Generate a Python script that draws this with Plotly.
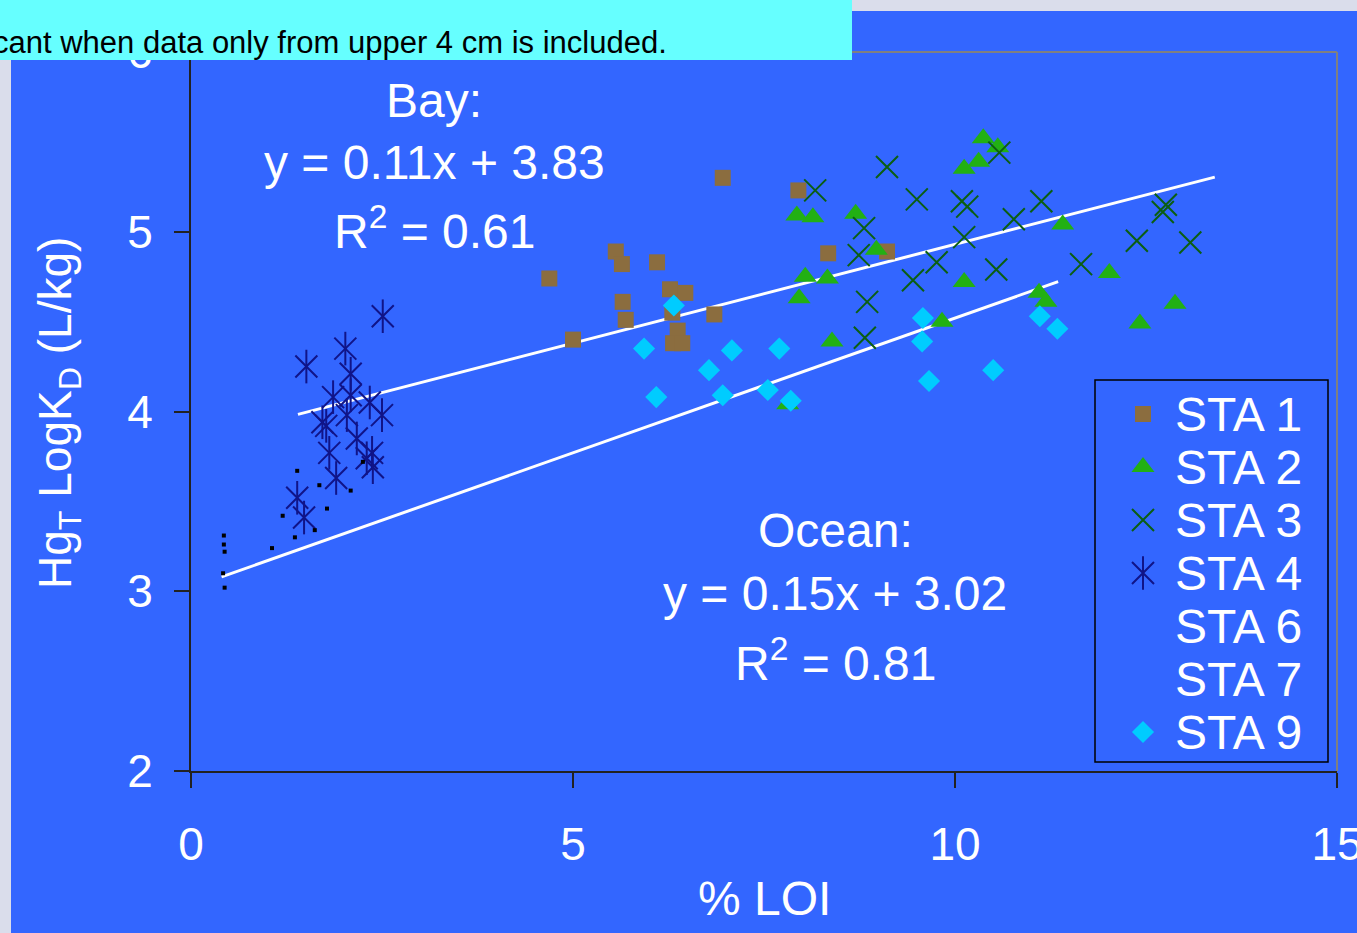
import plotly.graph_objects as go
import numpy as np

# ---------------- data ----------------
sta1_x = [4.69, 5.00, 5.56, 5.64, 5.65, 5.69, 6.10, 6.27, 6.47, 6.30, 6.37, 6.31, 6.43, 6.85, 6.96, 7.95, 8.34, 9.11]
sta1_y = [4.74, 4.40, 4.89, 4.82, 4.61, 4.51, 4.83, 4.68, 4.66, 4.55, 4.45, 4.38, 4.38, 4.54, 5.30, 5.23, 4.88, 4.89]

sta2_x = [10.37, 10.56, 10.31, 10.12, 7.93, 8.14, 8.70, 8.97, 8.04, 8.33, 7.96, 10.12, 11.41, 11.10, 11.19, 9.83, 8.39, 12.02, 12.88, 12.42, 7.81]
sta2_y = [5.52, 5.47, 5.39, 5.35, 5.09, 5.08, 5.10, 4.90, 4.75, 4.74, 4.63, 4.72, 5.04, 4.66, 4.61, 4.50, 4.39, 4.77, 4.60, 4.49, 4.04]

sta3_x = [8.17, 9.11, 9.50, 10.09, 10.16, 10.58, 11.13, 10.77, 8.81, 8.74, 10.12, 9.76, 9.45, 10.54, 8.85, 8.82, 12.76, 12.72, 12.38, 13.08, 11.65]
sta3_y = [5.23, 5.36, 5.18, 5.17, 5.14, 5.44, 5.17, 5.07, 5.02, 4.87, 4.97, 4.83, 4.73, 4.79, 4.61, 4.41, 5.15, 5.11, 4.95, 4.94, 4.82]

sta4_x = [2.51, 2.02, 1.51, 2.09, 1.86, 2.09, 2.34, 2.50, 2.04, 1.72, 1.77, 2.17, 1.81, 2.37, 2.30, 2.38, 1.90, 1.39, 1.48]
sta4_y = [4.53, 4.35, 4.25, 4.21, 4.08, 4.09, 4.05, 3.98, 3.98, 3.94, 3.92, 3.85, 3.77, 3.77, 3.74, 3.69, 3.63, 3.52, 3.41]

sta6_x = [0.43, 0.43, 0.44, 0.42, 0.44]
sta6_y = [3.31, 3.26, 3.22, 3.10, 3.02]

sta7_x = [1.39, 1.68, 2.09, 1.20, 1.78, 1.62, 1.36, 1.06, 2.25]
sta7_y = [3.67, 3.59, 3.56, 3.42, 3.46, 3.34, 3.30, 3.24, 3.72]

sta9_x = [6.32, 5.93, 7.08, 7.70, 6.78, 6.09, 6.96, 7.55, 7.85, 9.58, 9.57, 9.66, 10.50, 11.11, 11.34]
sta9_y = [4.59, 4.35, 4.34, 4.35, 4.23, 4.08, 4.09, 4.12, 4.06, 4.52, 4.39, 4.17, 4.23, 4.53, 4.46]

series_names = ["STA 1", "STA 2", "STA 3", "STA 4", "STA 6", "STA 7", "STA 9"]

bay_fit = {"slope": 0.11, "intercept": 3.83, "r2": 0.61, "xmin": 1.4, "xmax": 13.4}
ocean_fit = {"slope": 0.15, "intercept": 3.02, "r2": 0.81, "xmin": 0.4, "xmax": 11.35}

x_ticks = [0, 5, 10, 15]
y_ticks = [2, 3, 4, 5, 6]

caption = "cant when data only from upper 4 cm is included."

# ---------------- layout helpers ----------------
W, H = 1357, 933
L, R, T, B = 191, 1337, 52, 771
BLUE = "#3366FF"
FONT = "Liberation Sans, Arial, sans-serif"


def px(x):
    return (x - L) / (R - L)


def py(y):
    return (B - y) / (B - T)


STYLES = {
    "STA 1": [dict(symbol="square", size=16, color="#8B6D3F", line=dict(width=0))],
    "STA 2": [dict(symbol="triangle-up", size=20, color="#22B014", line=dict(width=0))],
    "STA 3": [dict(symbol="x-thin", size=22, color="#0B5E12", line=dict(width=2, color="#0B5E12"))],
    "STA 4": [dict(symbol="x-thin", size=22, color="#101488", line=dict(width=2, color="#101488")),
              dict(symbol="line-ns", size=24, color="#101488", line=dict(width=2, color="#101488"))],
    "STA 6": [dict(symbol="square", size=4, color="black", line=dict(width=0))],
    "STA 7": [dict(symbol="square", size=4, color="black", line=dict(width=0))],
    "STA 9": [dict(symbol="diamond", size=17, color="#00CCFF", line=dict(width=0))],
}
SERIES = {
    "STA 1": (sta1_x, sta1_y), "STA 2": (sta2_x, sta2_y), "STA 3": (sta3_x, sta3_y),
    "STA 4": (sta4_x, sta4_y), "STA 6": (sta6_x, sta6_y), "STA 7": (sta7_x, sta7_y),
    "STA 9": (sta9_x, sta9_y),
}

fig = go.Figure()

# trend lines
for fit in (bay_fit, ocean_fit):
    xs = np.array([fit["xmin"], fit["xmax"]])
    ys = fit["slope"] * xs + fit["intercept"]
    fig.add_trace(go.Scatter(x=xs, y=ys, mode="lines", line=dict(color="white", width=3),
                             showlegend=False, hoverinfo="skip"))

# data series
for name in series_names:
    xs, ys = SERIES[name]
    for mk in STYLES[name]:
        fig.add_trace(go.Scatter(x=xs, y=ys, mode="markers", name=name, marker=mk,
                                 showlegend=False, hoverinfo="skip"))

# ---------------- manual legend ----------------
leg_box = (1095, 380, 1328, 762)
leg_row0, leg_step = 414, 53
leg_mark_x, leg_text_x = 1143, 1173
annotations = []
for i, name in enumerate(series_names):
    yrow = leg_row0 + leg_step * i
    if name not in ("STA 6", "STA 7"):  # tiny markers are invisible in the reference legend
        for mk in STYLES[name]:
            fig.add_trace(go.Scatter(x=[px(leg_mark_x)], y=[py(yrow)], xaxis="x2", yaxis="y2",
                                     mode="markers", marker=mk, showlegend=False, hoverinfo="skip"))
    annotations.append(dict(x=px(leg_text_x), y=py(yrow), xref="paper", yref="paper",
                            text=name, showarrow=False, xanchor="left", yanchor="middle",
                            font=dict(family=FONT, size=48, color="white")))


# ---------------- text annotations ----------------
def ann(text, x, y, size=48, color="white", xanchor="center", angle=0):
    annotations.append(dict(x=px(x), y=py(y), xref="paper", yref="paper", text=text,
                            showarrow=False, xanchor=xanchor, yanchor="middle", textangle=angle,
                            font=dict(family=FONT, size=size, color=color)))


ann("Bay:", 434, 100)
ann(f"y = {bay_fit['slope']:.2f}x + {bay_fit['intercept']:.2f}", 434, 162)
ann(f"R<sup>2</sup> = {bay_fit['r2']:.2f}", 434, 228)
ann("Ocean:", 835, 530)
ann(f"y = {ocean_fit['slope']:.2f}x + {ocean_fit['intercept']:.2f}", 835, 593)
ann(f"R<sup>2</sup> = {ocean_fit['r2']:.2f}", 835, 660)
ann("% LOI", 764, 898, size=48)
ann("Hg<sub>T</sub> LogK<sub>D</sub> (L/kg)", 58, 413, size=46, angle=-90)
ann(caption, 669, 42, size=31, color="black", xanchor="right")

# ---------------- shapes ----------------
shapes = [
    # blue slide background
    dict(type="rect", xref="paper", yref="paper", x0=px(11), x1=px(W + 40), y0=py(H + 5), y1=py(11),
         fillcolor=BLUE, line=dict(width=0), layer="below"),
    # top / right frame
    dict(type="line", xref="paper", yref="paper", x0=0, x1=1, y0=1, y1=1,
         line=dict(color="#808080", width=2), layer="below"),
    dict(type="line", xref="paper", yref="paper", x0=1, x1=1, y0=0, y1=1,
         line=dict(color="#808080", width=2), layer="below"),
    # legend box
    dict(type="rect", xref="paper", yref="paper", x0=px(leg_box[0]), x1=px(leg_box[2]),
         y0=py(leg_box[3]), y1=py(leg_box[1]), line=dict(color="black", width=1.5),
         fillcolor="rgba(0,0,0,0)"),
    # cyan caption box
    dict(type="rect", xref="paper", yref="paper", x0=px(-5), x1=px(852), y0=py(60), y1=py(-5),
         fillcolor="#66FFFF", line=dict(width=0), layer="above"),
]

axis_common = dict(showgrid=False, zeroline=False, showline=True, linecolor="#222222", linewidth=2,
                   ticks="outside", ticklen=15, tickwidth=2, tickcolor="#222222",
                   ticklabeloverflow="allow", automargin=False,
                   tickfont=dict(family=FONT, size=46, color="white"))

fig.update_layout(
    width=W, height=H, autosize=False,
    margin=dict(l=L, r=W - R, t=T, b=H - B, pad=0, autoexpand=False),
    paper_bgcolor="#DADDEB",
    plot_bgcolor=BLUE,
    showlegend=False,
    xaxis=dict(range=[0, 15], tickvals=x_ticks, ticklabelstandoff=17, **axis_common),
    yaxis=dict(range=[2, 6], tickvals=y_ticks, ticklabelstandoff=12, **axis_common),
    xaxis2=dict(overlaying="x", range=[0, 1], visible=False, fixedrange=True),
    yaxis2=dict(overlaying="y", range=[0, 1], visible=False, fixedrange=True),
    annotations=annotations,
    shapes=shapes,
)

fig.write_html("out.html")
